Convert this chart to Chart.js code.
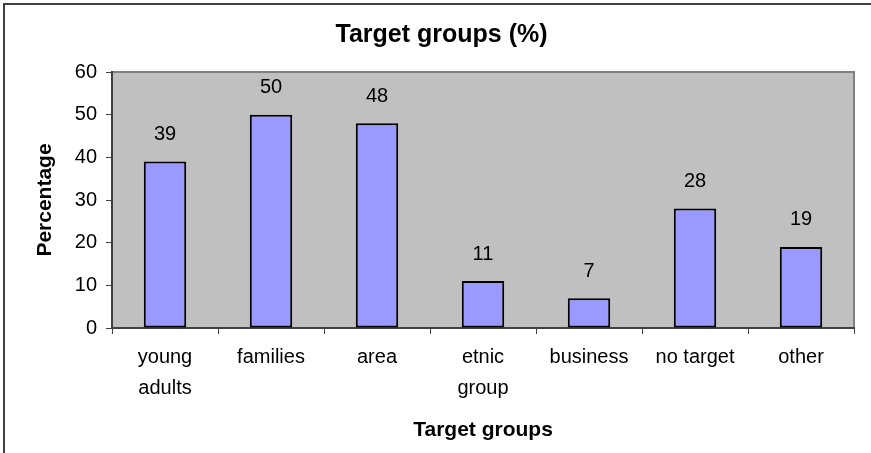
<!DOCTYPE html>
<html>
<head>
<meta charset="utf-8">
<script src="https://cdn.jsdelivr.net/npm/chart.js@4/dist/chart.umd.min.js"></script>
<style>
  html, body { margin: 0; padding: 0; background: #fff; }
  #wrap { width: 871px; height: 453px; position: relative; }
</style>
</head>
<body>
<div id="wrap"><canvas id="myChart" width="871" height="453"></canvas></div>
<script>
"use strict";

// data
const categories = [["young", "adults"], "families", "area", ["etnic", "group"], "business", "no target", "other"];
const percentages = [39, 50, 48, 11, 7, 28, 19];
const yTicks = [0, 10, 20, 30, 40, 50, 60];

const fontName = "'Liberation Sans', Arial, sans-serif";

// gray plot area, thin frame round the whole picture
const backdrop = {
    id: 'backdrop',
    beforeDraw(chart) {
        const c = chart.ctx;
        const a = chart.chartArea;
        c.save();
        c.fillStyle = '#fff';
        c.fillRect(0, 0, chart.width, chart.height);
        c.strokeStyle = '#404040';
        c.lineWidth = 2;
        c.beginPath();
        c.moveTo(4, chart.height);
        c.lineTo(4, 4);
        c.lineTo(chart.width, 4);
        c.stroke();
        c.fillStyle = '#C0C0C0';
        c.fillRect(a.left, a.top, a.right - a.left, a.bottom - a.top);
        c.strokeStyle = '#808080';
        c.lineWidth = 2;
        c.beginPath();
        c.moveTo(a.left, a.top);
        c.lineTo(a.right, a.top);
        c.lineTo(a.right, a.bottom);
        c.stroke();
        c.restore();
    }
};

// value above each bar
const barLabels = {
    id: 'barLabels',
    afterDatasetsDraw(chart) {
        const c = chart.ctx;
        const meta = chart.getDatasetMeta(0);
        c.save();
        c.fillStyle = '#000';
        c.font = '20px ' + fontName;
        c.textAlign = 'center';
        c.textBaseline = 'middle';
        meta.data.forEach((bar, i) => {
            c.fillText(String(percentages[i]), bar.x, bar.y - 27);
        });
        c.restore();
    }
};

const ctx = document.getElementById('myChart').getContext('2d');
const myChart = new Chart(ctx, {
    type: 'bar',
    data: {
        labels: categories,
        datasets: [{
            data: percentages,
            backgroundColor: '#9999FF',
            borderColor: '#000',
            borderWidth: 2,
            borderSkipped: false,
            barPercentage: 0.4,
            categoryPercentage: 1
        }]
    },
    options: {
        responsive: false,
        animation: false,
        layout: { padding: { left: 29, right: 17, top: 0, bottom: 6 } },
        plugins: {
            legend: { display: false },
            tooltip: { enabled: false },
            title: {
                display: true,
                text: 'Target groups (%)',
                color: '#000',
                font: { family: fontName, size: 25, weight: 'bold', lineHeight: 1.2 },
                padding: { top: 20, bottom: 22 }
            }
        },
        scales: {
            x: {
                grid: { display: true, drawOnChartArea: false, tickLength: 6, tickColor: '#404040', offset: true },
                border: { color: '#404040', width: 2 },
                ticks: {
                    color: '#000',
                    font: { family: fontName, size: 20, lineHeight: 1.55 },
                    padding: 8,
                    maxRotation: 0,
                    autoSkip: false
                },
                title: {
                    display: true,
                    text: 'Target groups',
                    color: '#000',
                    font: { family: fontName, size: 21, weight: 'bold', lineHeight: 1.2 },
                    padding: { top: 4, bottom: 4 }
                },
                afterFit(scale) { scale.height = 119; }
            },
            y: {
                min: 0,
                max: 60,
                afterBuildTicks(scale) { scale.ticks = yTicks.map(v => ({ value: v })); },
                grid: { display: true, drawOnChartArea: false, tickLength: 6, tickColor: '#404040' },
                border: { color: '#404040', width: 2 },
                ticks: {
                    color: '#000',
                    font: { family: fontName, size: 20 },
                    padding: 9
                },
                title: {
                    display: true,
                    text: 'Percentage',
                    color: '#000',
                    font: { family: fontName, size: 21, weight: 'bold', lineHeight: 1.2 },
                    padding: { top: 4, bottom: 4 }
                },
                afterFit(scale) { scale.width = 83; }
            }
        }
    },
    plugins: [backdrop, barLabels]
});
</script>
</body>
</html>
